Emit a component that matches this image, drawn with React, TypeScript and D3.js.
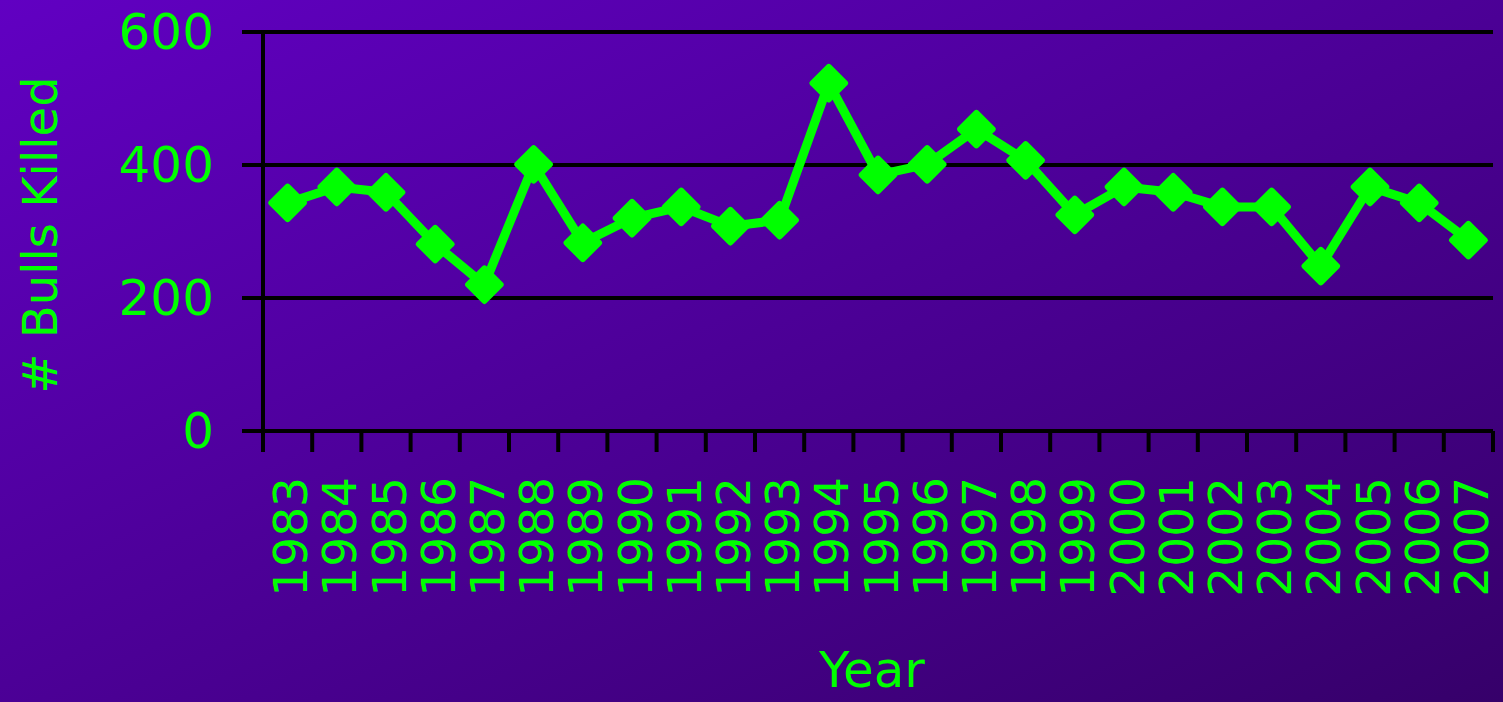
import React from "react";
import * as d3 from "d3";

const years = [
  "1983", "1984", "1985", "1986", "1987", "1988", "1989", "1990", "1991",
  "1992", "1993", "1994", "1995", "1996", "1997", "1998", "1999", "2000",
  "2001", "2002", "2003", "2004", "2005", "2006", "2007",
];
const bullsKilled = [
  343, 367, 359, 281, 220, 401, 283, 320, 337, 308, 317, 523, 385, 401,
  454, 407, 325, 367, 359, 337, 337, 248, 367, 343, 287,
];
const yTicks = [0, 200, 400, 600];

const W = 1503;
const H = 702;
const left = 263;
const right = 1493;
const top = 32;
const bottom = 431;
const green = "#00ff00";
const font = "'Comic Sans MS', 'DejaVu Sans', sans-serif";

export default function App() {
  const x = d3.scaleBand<string>().domain(years).range([left, right]);
  const y = d3.scaleLinear().domain([0, 600]).range([bottom, top]);
  const cx = (yr: string) => (x(yr) ?? 0) + x.bandwidth() / 2;
  const line = d3
    .line<number>()
    .x((_, i) => cx(years[i]))
    .y((v) => y(v));
  const boundaries = years.map((yr) => x(yr) ?? 0).concat([right]);
  const side = 29;

  return (
    <svg
      width={W}
      height={H}
      style={{ position: "absolute", left: 0, top: 0, display: "block" }}
    >
      <defs>
        <linearGradient id="bg" x1="0" y1="0" x2="1" y2="1">
          <stop offset="0%" stopColor="#6100c2" />
          <stop offset="100%" stopColor="#36006a" />
        </linearGradient>
      </defs>
      <rect x={0} y={0} width={W} height={H} fill="url(#bg)" />

      {/* horizontal gridlines and y ticks */}
      {yTicks.map((t) => (
        <line
          key={t}
          x1={242}
          x2={right}
          y1={y(t)}
          y2={y(t)}
          stroke="#000"
          strokeWidth={4}
        />
      ))}
      <line x1={left} x2={left} y1={top} y2={452} stroke="#000" strokeWidth={4} />
      {boundaries.map((b, i) => (
        <line
          key={i}
          x1={b}
          x2={b}
          y1={bottom}
          y2={452}
          stroke="#000"
          strokeWidth={4}
        />
      ))}

      {yTicks.map((t) => (
        <text
          key={t}
          x={214}
          y={y(t)}
          fill={green}
          fontFamily={font}
          fontSize={50}
          textAnchor="end"
          dominantBaseline="central"
        >
          {t}
        </text>
      ))}

      {years.map((yr) => (
        <text
          key={yr}
          transform={`translate(${cx(yr) + 3},477) rotate(-90)`}
          fill={green}
          fontFamily={font}
          fontSize={47}
          textAnchor="end"
          dominantBaseline="central"
        >
          {yr}
        </text>
      ))}

      <text
        transform="translate(40,235) rotate(-90)"
        fill={green}
        fontFamily={font}
        fontSize={48}
        textAnchor="middle"
        dominantBaseline="central"
      >
        # Bulls Killed
      </text>
      <text
        x={872}
        y={670}
        fill={green}
        fontFamily={font}
        fontSize={50}
        textAnchor="middle"
        dominantBaseline="central"
      >
        Year
      </text>

      <path
        d={line(bullsKilled) ?? ""}
        fill="none"
        stroke={green}
        strokeWidth={9}
        strokeLinejoin="round"
      />
      {bullsKilled.map((v, i) => (
        <rect
          key={years[i]}
          x={-side / 2}
          y={-side / 2}
          width={side}
          height={side}
          rx={3}
          fill={green}
          transform={`translate(${cx(years[i])},${y(v)}) rotate(45)`}
        />
      ))}
    </svg>
  );
}
